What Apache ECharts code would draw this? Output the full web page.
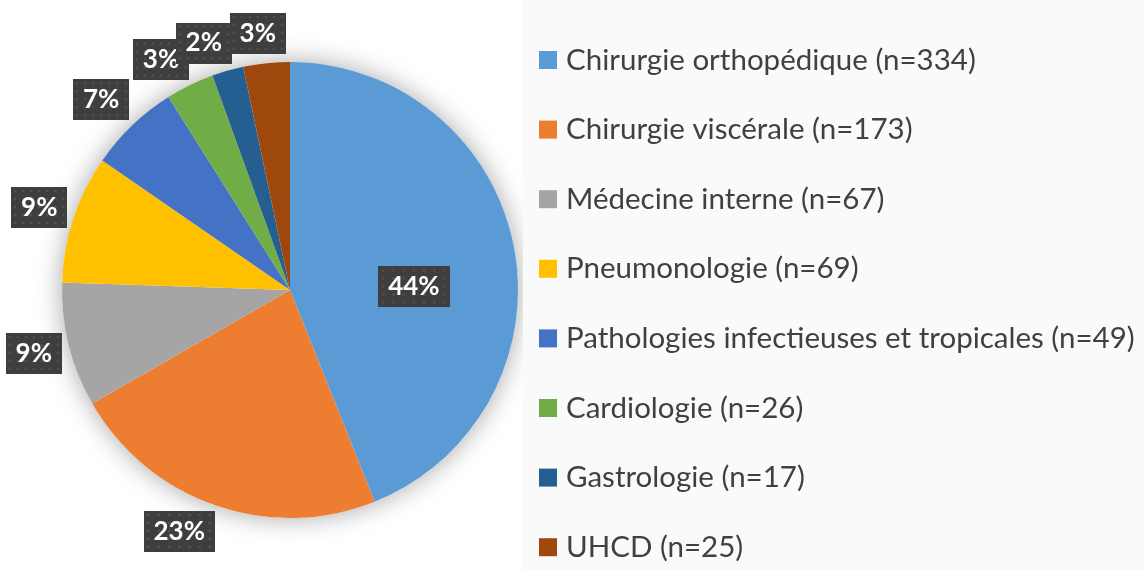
<!DOCTYPE html>
<html><head><meta charset="utf-8">
<script src="https://cdn.jsdelivr.net/npm/echarts@6/dist/echarts.min.js"></script>
<style>html,body{margin:0;padding:0;background:#fff}#c{width:1146px;height:576px}</style>
</head><body><div id="c"></div>
<script>
const categories = ['Chirurgie orthopédique','Chirurgie viscérale','Médecine interne','Pneumonologie','Pathologies infectieuses et tropicales','Cardiologie','Gastrologie','UHCD'];
const counts = [334,173,67,69,49,26,17,25];
const colors = ['#5B9BD5','#ED7D31','#A5A5A5','#FFC000','#4472C4','#70AD47','#255E91','#9E480E'];

function dotCanvas(w,h){
  const c=document.createElement('canvas'); c.width=w; c.height=h;
  const g=c.getContext('2d');
  g.fillStyle='#3e3e3e'; g.fillRect(0,0,w,h);
  g.fillStyle='#545454';
  for(let y=3;y<h;y+=8){ for(let x=3; x<w; x+=8){ g.fillRect(x,y,2,2);} }
  return c;
}
const bg = dotCanvas(56,41);
// small "best fit" nudges of the outside labels (pixels)
const labelNudge = {1:[-24,-8], 4:[-6,0], 5:[-13,7], 6:[-14,7], 7:[-5,6]};

const chart = echarts.init(document.getElementById('c'));
const pieData = categories.map((n,i)=>{
  const d = {name:n, value:counts[i], itemStyle:{color:colors[i]}};
  if(i===0){ d.label={position:'inside', offset:[9,19]}; d.labelLine={show:false}; }
  return d;
});
chart.setOption({
  backgroundColor:'#ffffff',
  animation:false,
  legend:{
    orient:'vertical', left:523, top:0, padding:[45,9,8,16], height:520,
    backgroundColor:'#fafafa',
    data:categories, icon:'rect', itemWidth:18, itemHeight:18, itemGap:39.6,
    textStyle:{fontFamily:'Lato', fontSize:29.5, color:'#404040', lineHeight:30, padding:[0,0,0,4]},
    formatter:function(name){ return name+' (n='+counts[categories.indexOf(name)]+')'; },
    selectedMode:false
  },
  series:[
    {type:'pie', center:[290,290], radius:228, silent:true, z:1,
     label:{show:false}, labelLine:{show:false},
     itemStyle:{color:'#ffffff', shadowBlur:26, shadowColor:'rgba(0,0,0,0.35)'},
     data:[{name:'__bg', value:1}]},
    {type:'pie', center:[290,290], radius:228, z:2, avoidLabelOverlap:false, percentPrecision:0,
     startAngle:90, clockwise:true,
     label:{show:true, position:'outside', formatter:'{d}%', color:'#ffffff', fontFamily:'Lato', fontWeight:'bold',
       fontSize:26, lineHeight:29, padding:[7,10,5,10], backgroundColor:{image:bg},
       shadowColor:'rgba(0,0,0,0.45)', shadowBlur:6, shadowOffsetX:3, shadowOffsetY:3},
     labelLine:{show:true, length:36, length2:0, lineStyle:{opacity:0}},
     labelLayout:function(p){
       if(p.labelLinePoints && p.dataIndex!==0){
         const q=p.labelLinePoints[1];
         const s=labelNudge[p.dataIndex]||[0,0];
         return {x:q[0]+s[0], y:q[1]+s[1], align:'center', verticalAlign:'middle'};
       }
       return {};
     },
     data:pieData}
  ]
});
</script></body></html>
